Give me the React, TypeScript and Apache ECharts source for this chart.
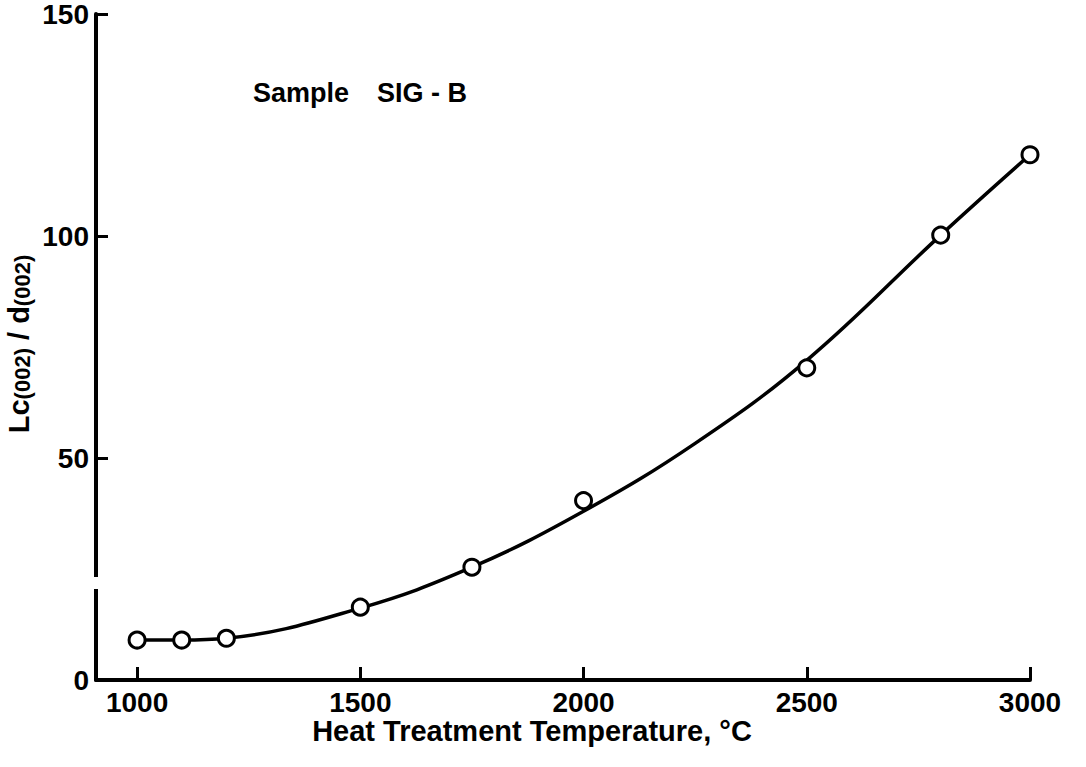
import React, { useEffect, useRef } from "react";
import * as echarts from "echarts";

// Measured points (Heat treatment temperature, °C  vs  Lc(002)/d(002))
const tempX = [1000, 1100, 1200, 1500, 1750, 2000, 2500, 2800, 3000];
const lcRatio = [9.0, 9.0, 9.4, 16.4, 25.4, 40.4, 70.3, 100.2, 118.3];

// Hand-drawn fitted curve
const curveX = [1000, 1100, 1200, 1500, 1750, 2000, 2250, 2500, 2800, 3000];
const curveY = [9.0, 9.0, 9.4, 16.2, 25.4, 38.0, 53.3, 72.0, 100.2, 118.3];

const xTicks = [1000, 1500, 2000, 2500, 3000];
const yTicks = [0, 50, 100, 150];

const sampleLabel = "Sample";
const sampleName = "SIG - B";
const xTitle = "Heat Treatment Temperature, °C";

const FONT = "Liberation Sans";

export default function App() {
  const ref = useRef<HTMLDivElement>(null);

  useEffect(() => {
    if (!ref.current) return;
    const chart = echarts.init(ref.current, undefined, { renderer: "svg" });
    const labelStyle = {
      color: "#000",
      fontFamily: FONT,
      fontWeight: "bold" as const,
      fontSize: 28,
      formatter: (v: number) => String(v),
    };
    chart.setOption({
      animation: false,
      backgroundColor: "#fff",
      grid: { left: 96, right: 56, top: 13, bottom: 87, containLabel: false },
      xAxis: {
        type: "value",
        min: 908,
        max: 3000,
        axisLine: { onZero: false, lineStyle: { color: "#000", width: 4 } },
        axisTick: {
          inside: true,
          length: 13,
          customValues: xTicks,
          lineStyle: { color: "#000", width: 3 },
        },
        axisLabel: { ...labelStyle, margin: 8, customValues: xTicks },
        splitLine: { show: false },
      },
      yAxis: {
        type: "value",
        min: yTicks[0],
        max: yTicks[yTicks.length - 1],
        interval: 50,
        axisLine: { show: true, lineStyle: { color: "#000", width: 4 } },
        axisTick: {
          show: true,
          inside: true,
          length: 12,
          lineStyle: { color: "#000", width: 3 },
        },
        axisLabel: { ...labelStyle, margin: 7 },
        splitLine: { show: false },
      },
      series: [
        {
          type: "line",
          data: curveX.map((x, i) => [x, curveY[i]]),
          smooth: 0.4,
          showSymbol: false,
          symbol: "none",
          lineStyle: { color: "#000", width: 3.5 },
          z: 2,
          silent: true,
        },
        {
          type: "scatter",
          data: tempX.map((x, i) => [x, lcRatio[i]]),
          symbol: "circle",
          symbolSize: 16,
          itemStyle: { color: "#fff", borderColor: "#000", borderWidth: 3, opacity: 1 },
          z: 3,
        },
      ],
      graphic: [
        {
          type: "rect",
          z: 100,
          shape: { x: 91, y: 577, width: 11, height: 12 },
          style: { fill: "#fff" },
        },
        {
          type: "text",
          z: 100,
          x: 253,
          y: 93,
          style: {
            text: sampleLabel,
            font: `bold 27px "${FONT}"`,
            fill: "#000",
            textAlign: "left",
            textVerticalAlign: "middle",
          },
        },
        {
          type: "text",
          z: 100,
          x: 377,
          y: 93,
          style: {
            text: sampleName,
            font: `bold 27px "${FONT}"`,
            fill: "#000",
            textAlign: "left",
            textVerticalAlign: "middle",
          },
        },
        {
          type: "text",
          z: 100,
          x: 532,
          y: 731,
          style: {
            text: xTitle,
            font: `bold 29px "${FONT}"`,
            fill: "#000",
            textAlign: "center",
            textVerticalAlign: "middle",
          },
        },
        {
          type: "text",
          z: 100,
          x: 18,
          y: 344,
          rotation: Math.PI / 2,
          style: {
            text: "{a|Lc}{b|(002)}{a| / d}{b|(002)}",
            fill: "#000",
            textAlign: "center",
            textVerticalAlign: "middle",
            rich: {
              a: {
                fontFamily: FONT,
                fontWeight: "bold",
                fontSize: 29,
                lineHeight: 30,
                verticalAlign: "bottom",
                fill: "#000",
              },
              b: {
                fontFamily: FONT,
                fontWeight: "bold",
                fontSize: 22,
                lineHeight: 30,
                verticalAlign: "bottom",
                fill: "#000",
              },
            },
          },
        },
      ],
    });
    return () => chart.dispose();
  }, []);

  return (
    <div
      ref={ref}
      style={{ position: "fixed", left: 0, top: 0, width: 1086, height: 767, background: "#fff" }}
    />
  );
}
